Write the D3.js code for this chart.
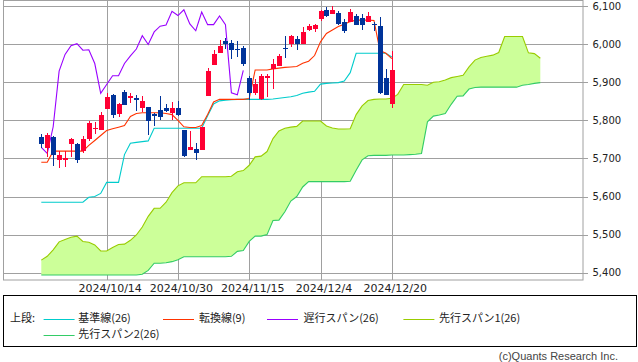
<!DOCTYPE html>
<html><head><meta charset="utf-8">
<script src="https://cdnjs.cloudflare.com/ajax/libs/d3/7.8.5/d3.min.js"></script>
<style>
html,body{margin:0;padding:0;background:#fff;}
svg{display:block;}
</style></head>
<body>
<svg id="chart" width="638" height="362"></svg>
<script>
// ---- data ----
const dates = ["2024/9/27","2024/9/30","2024/10/1","2024/10/2","2024/10/3","2024/10/4","2024/10/7","2024/10/8","2024/10/9","2024/10/10",
"2024/10/11","2024/10/14","2024/10/15","2024/10/16","2024/10/17","2024/10/18","2024/10/21","2024/10/22","2024/10/23","2024/10/24",
"2024/10/25","2024/10/28","2024/10/29","2024/10/30","2024/10/31","2024/11/1","2024/11/4","2024/11/5","2024/11/6","2024/11/7",
"2024/11/8","2024/11/11","2024/11/12","2024/11/13","2024/11/14","2024/11/15","2024/11/18","2024/11/19","2024/11/20","2024/11/21",
"2024/11/22","2024/11/25","2024/11/26","2024/11/27","2024/11/29","2024/12/2","2024/12/3","2024/12/4","2024/12/5","2024/12/6",
"2024/12/9","2024/12/10","2024/12/11","2024/12/12","2024/12/13","2024/12/16","2024/12/17","2024/12/18","2024/12/19","2024/12/20"];

const open = [5755,5727,5757,5696,5695,5737,5738,5719,5751,5777, 5775,5829,5866,5816,5875,5859,5858,5832,5834,5817,
5827,5833,5820,5833,5775,5723,5725,5722,5864,5946, 5976,6007,6004,5987,5990,5912,5872,5856,5912,5935,
5943,5991,5999,6013,6000,6037,6040,6067,6089,6078, 6082,6059,6059,6074,6068,6059,6053,6047,5910,5842];
const high = [5764,5766,5758,5719,5719,5754,5740,5758,5797,5795, 5822,5871,5870,5846,5879,5872,5867,5863,5835,5818,
5863,5843,5847,5851,5775,5772,5741,5783,5936,5984, 6012,6017,6010,6008,5994,5915,5908,5921,5921,5962,
5973,6021,6025,6020,6044,6054,6052,6090,6098,6100, 6088,6065,6093,6080,6079,6085,6058,6071,5935,5982];
const low = [5727,5704,5681,5674,5677,5703,5687,5715,5745,5765, 5775,5829,5805,5808,5840,5846,5825,5821,5762,5785,
5800,5823,5802,5811,5703,5723,5697,5722,5865,5946, 5976,5987,5960,5966,5942,5853,5866,5853,5861,5883,
5943,5964,5992,5985,6000,6035,6033,6061,6072,6078, 6049,6030,6059,6051,6036,6059,6035,5868,5866,5832];
const close = [5738,5762,5709,5709,5700,5751,5696,5751,5792,5780, 5815,5860,5815,5842,5841,5865,5854,5851,5797,5810,
5808,5824,5833,5814,5705,5729,5713,5783,5929,5973, 5996,6001,5984,5985,5949,5871,5894,5917,5917,5949,
5969,5987,6022,5999,6032,6047,6050,6086,6075,6090, 6053,6035,6084,6051,6051,6074,6051,5872,5867,5931];

// 転換線(9)
const tenkan = [5690,5690,5719,5719,5719,5719,5719,5719,5734,5747, 5760,5773,5778,5782,5786,5810,5818,5820,5820,5820,
5820,5818,5815,5800,5783,5781,5781,5786,5815,5848, 5855,5855,5855,5855,5855,5857,5932,5932,5932,5935,
5937,5939,5940,5941,5950,5955,5970,6006,6028,6037, 6046,6052,6059,6063,6063,6063,6062,5983,5976,5962];
// 基準線(26)
const kijun = [5585,5585,5585,5585,5585,5585,5585,5585,5598,5600, 5608,5637,5637,5637,5710,5740,5742,5744,5746,5779,
5779,5779,5779,5779,5779,5779,5779,5779,5812,5843, 5851,5853,5854,5855,5855,5855,5855,5855,5855,5856,
5858,5860,5862,5865,5871,5874,5876,5895,5897,5898, 5899,5903,5925,5976,5976,5976,5976,5976,5976,5966];
// 先行スパン1(26)
const span1 = [5433,5443,5460,5481,5487,5493,5496,5482,5480,5473, 5457,5457,5466,5474,5475,5485,5499,5520,5548,5569,
5569,5585,5610,5628,5636,5636,5636,5652,5652,5652, 5652,5652,5653,5665,5668,5682,5704,5706,5718,5752,
5772,5779,5782,5784,5798,5798,5798,5798,5785,5780, 5777,5777,5778,5815,5838,5852,5855,5856,5856,5858,
5868,5894,5894,5894,5894,5892,5900,5901,5906,5912, 5915,5918,5940,5958,5965,5968,5971,5978,6020,6020,
6020,6020,5977,5975,5963];
// 先行スパン2(26)
const span2 = [5394,5394,5394,5394,5394,5394,5394,5394,5394,5394, 5394,5394,5394,5394,5394,5394,5394,5396,5406,5425,
5425,5426,5429,5434,5442,5442,5442,5442,5442,5442, 5442,5442,5443,5456,5458,5482,5496,5496,5500,5537,
5538,5560,5588,5600,5625,5639,5639,5639,5639,5639, 5639,5639,5640,5669,5696,5707,5708,5708,5708,5709,
5709,5709,5710,5711,5713,5796,5811,5814,5818,5842, 5863,5864,5882,5886,5887,5887,5887,5887,5887,5887,
5887,5892,5894,5897,5899];

const yTicks = [5400,5500,5600,5700,5800,5900,6000,6100];
const xTickIdx = [11,23,35,47,59];
const chikouShift = 25;

// ---- layout ----
const svg = d3.select("#chart");
const frame = {left:3, right:582.5, top:0.5, bottom:280};
const x = d3.scaleLinear().domain([0,59]).range([41.3, 391.8]);
const y = d3.scaleLinear().domain([5400,6100]).range([272.7, 6]);
const gridCol = "#a0a0a0";

const g = svg.append("g");

// grid
g.selectAll("line.hg").data(yTicks).enter().append("line")
  .attr("x1", frame.left).attr("x2", 588)
  .attr("y1", d=>Math.round(y(d))+0.5).attr("y2", d=>Math.round(y(d))+0.5)
  .attr("stroke", gridCol).attr("stroke-width",1);
g.selectAll("line.vg").data(xTickIdx).enter().append("line")
  .attr("x1", d=>Math.round(x(d))+0.5).attr("x2", d=>Math.round(x(d))+0.5)
  .attr("y1", frame.top).attr("y2", frame.bottom)
  .attr("stroke", gridCol).attr("stroke-width",1);

// frame
g.append("rect").attr("x",frame.left+0.5).attr("y",frame.top)
  .attr("width",frame.right-frame.left).attr("height",frame.bottom-frame.top)
  .attr("fill","none").attr("stroke",gridCol).attr("stroke-width",1);

// cloud
const cloud = span1.map((v,i)=>({i, a:v, b:span2[i]}));
g.append("path").datum(cloud)
  .attr("d", d3.area().x(d=>x(d.i)).y0(d=>y(d.b)).y1(d=>y(d.a)))
  .attr("fill","#ccff99").attr("stroke","none");

function drawLine(vals, offset, color){
  const pts = vals.map((v,i)=>[i+offset, v]);
  g.append("path").datum(pts)
    .attr("d", d3.line().x(d=>x(d[0])).y(d=>y(d[1])))
    .attr("fill","none").attr("stroke",color).attr("stroke-width",1.1);
}
drawLine(span2, 0, "#33cc66");
drawLine(span1, 0, "#99cc00");
drawLine(kijun, 0, "#00cccc");
drawLine(tenkan, 0, "#ff3300");
drawLine(close.slice(chikouShift), 0, "#9900ff");

// candles
const candles = dates.map((d,i)=>({i, o:open[i], h:high[i], l:low[i], c:close[i]}));
const upCol = "#ff0033", dnCol = "#003399";
const cg = g.append("g").attr("shape-rendering","crispEdges");
cg.selectAll("line.wick").data(candles).enter().append("line")
  .attr("x1", d=>Math.round(x(d.i))+0.5).attr("x2", d=>Math.round(x(d.i))+0.5)
  .attr("y1", d=>y(d.h)).attr("y2", d=>y(d.l))
  .attr("stroke", d=>d.c>=d.o?upCol:dnCol).attr("stroke-width",1);
cg.selectAll("rect.body").data(candles).enter().append("rect")
  .attr("x", d=>Math.round(x(d.i))-2).attr("width",5)
  .attr("y", d=>y(Math.max(d.o,d.c)))
  .attr("height", d=>Math.max(1, y(Math.min(d.o,d.c))-y(Math.max(d.o,d.c))))
  .attr("fill", d=>d.c>=d.o?upCol:dnCol);

// y labels
g.selectAll("text.yl").data(yTicks).enter().append("text")
  .attr("x", 592.5).attr("y", d=>y(d)).attr("dy","0.35em")
  .attr("font-family","DejaVu Sans, sans-serif").attr("font-size",10).attr("fill","#222")
  .text(d=>d3.format(",")(d));

// x labels
g.selectAll("text.xl").data(xTickIdx).enter().append("text")
  .attr("x", d=>x(d)+3.5).attr("y", 292).attr("text-anchor","middle")
  .attr("font-family","DejaVu Sans, sans-serif").attr("font-size",11).attr("fill","#222")
  .text(d=>dates[d]);

// legend
const legendItems = [
  {label:"基準線(26)", color:"#00cccc", lx:43.6, tx:78.2, row:0},
  {label:"転換線(9)", color:"#ff3300", lx:163, tx:198.9, row:0},
  {label:"遅行スパン(26)", color:"#9900ff", lx:267, tx:303.6, row:0},
  {label:"先行スパン1(26)", color:"#99cc00", lx:403.4, tx:438.9, row:0},
  {label:"先行スパン2(26)", color:"#33cc66", lx:43.6, tx:78.2, row:1}
];
const lg = svg.append("g");
lg.append("rect").attr("x",3.5).attr("y",295.5).attr("width",633).attr("height",51)
  .attr("fill","none").attr("stroke","#000").attr("stroke-width",1);
const rowY = [318.5, 334.5];
const jfont = "'Noto Sans CJK JP', sans-serif";
lg.append("text").attr("x",10).attr("y",rowY[0]).attr("dy","0.35em")
  .attr("font-family",jfont).attr("font-size",11).attr("fill","#222").text("上段:");
legendItems.forEach(it=>{
  lg.append("line").attr("x1",it.lx).attr("x2",it.lx+31)
    .attr("y1",Math.round(rowY[it.row])+0.5).attr("y2",Math.round(rowY[it.row])+0.5)
    .attr("stroke",it.color).attr("stroke-width",1);
  lg.append("text").attr("x",it.tx).attr("y",rowY[it.row]).attr("dy","0.35em")
    .attr("font-family",jfont).attr("font-size",11).attr("fill","#222").text(it.label);
});
svg.append("text").attr("x",618).attr("y",356).attr("dy","0.35em").attr("text-anchor","end")
  .attr("font-family","'Liberation Sans', Arial, sans-serif").attr("font-size",11).attr("fill","#444")
  .text("(c)Quants Research Inc.");
</script>
</body></html>
